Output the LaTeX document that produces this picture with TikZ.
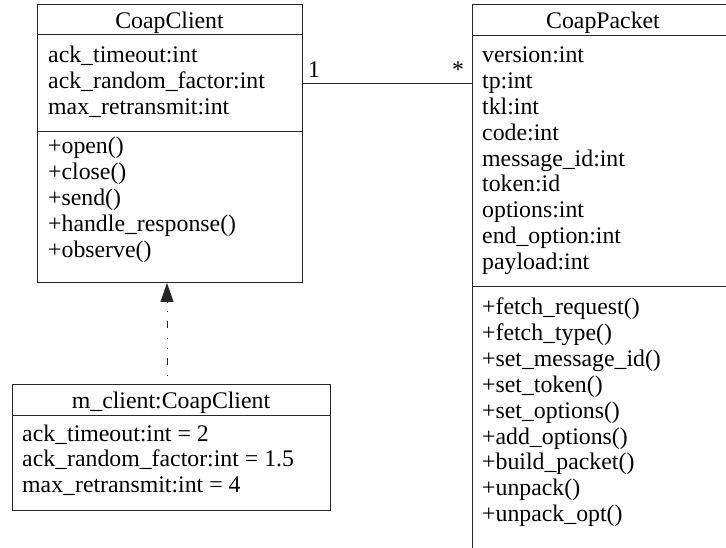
\documentclass[tikz,border=0pt]{standalone}
\usepackage{fontspec}
\setmainfont{Liberation Serif}
\usetikzlibrary{arrows.meta}
\begin{document}
\begin{tikzpicture}[x=1pt,y=1pt,
  classbox/.style={draw=black!85, line width=1pt, inner sep=0pt, outer sep=0pt, anchor=north west},
  rule/.style={draw=black!85, line width=1pt},
  member/.style={anchor=base west, inner sep=0pt, font=\fontsize{23.8}{25.8}\selectfont},
  title/.style={anchor=base, inner sep=0pt, font=\fontsize{23.8}{25.8}\selectfont},
  mult/.style={anchor=base, inner sep=0pt, font=\fontsize{23.8}{25.8}\selectfont},
  instanceof/.style={draw=black!85, line width=1pt,
    dash pattern=on 7pt off 9pt on 1pt off 9pt on 1pt off 10pt, dash phase=18pt,
    -{Triangle[length=19pt,width=13pt]}}]
\useasboundingbox (0,0) rectangle (726,-548);
\clip (0,0) rectangle (726,-548);

% ---- class CoapClient ----
\node[classbox, minimum width=265pt, minimum height=278pt] (client) at (37,-5) {};
\draw[rule] (37,-35) -- (302,-35);
\draw[rule] (37,-132) -- (302,-132);
\node[title] (clientname) at (169.5,-29) {CoapClient};
\foreach \t [count=\i from 0] in {ack\_timeout:int, ack\_random\_factor:int, max\_retransmit:int}
  \node[member] (ca\i) at (48,-63-25.8*\i) {\t};
\foreach \t [count=\i from 0] in {+open(), +close(), +send(), +handle\_response(), +observe()}
  \node[member] (cm\i) at (48,-154-25.8*\i) {\t};

% ---- class CoapPacket ----
\node[classbox, minimum width=262pt, minimum height=560pt] (packet) at (472,-5) {};
\draw[rule] (472,-36) -- (734,-36);
\draw[rule] (472,-287) -- (734,-287);
\node[title] (packetname) at (603,-29) {CoapPacket};
\foreach \t [count=\i from 0] in {version:int, tp:int, tkl:int, code:int, message\_id:int,
    token:id, options:int, end\_option:int, payload:int}
  \node[member] (pa\i) at (482,-63-25.8*\i) {\t};
\foreach \t [count=\i from 0] in {+fetch\_request(), +fetch\_type(), +set\_message\_id(),
    +set\_token(), +set\_options(), +add\_options(), +build\_packet(), +unpack(), +unpack\_opt()}
  \node[member] (pm\i) at (482,-315-25.8*\i) {\t};

% ---- object m_client ----
\node[classbox, minimum width=318pt, minimum height=126pt] (mclient) at (12,-384) {};
\draw[rule] (12,-415) -- (330,-415);
\node[title] (mclientname) at (171,-408) {m\_client:CoapClient};
\foreach \t [count=\i from 0] in {ack\_timeout:int = 2, ack\_random\_factor:int = 1.5, max\_retransmit:int = 4}
  \node[member] (ma\i) at (22,-441-25.8*\i) {\t};

% ---- association CoapClient 1 -- * CoapPacket ----
\coordinate (assoc) at (0,-84);
\draw[rule] (client.east |- assoc) -- (packet.west |- assoc);
\node[mult] (one) at (314,-78) {1};
\node[mult] (many) at (458,-78) {*};

% ---- instance-of link ----
\coordinate (linkx) at (167,0);
\draw[instanceof] (mclient.north -| linkx) -- (client.south -| linkx);
\end{tikzpicture}
\end{document}
